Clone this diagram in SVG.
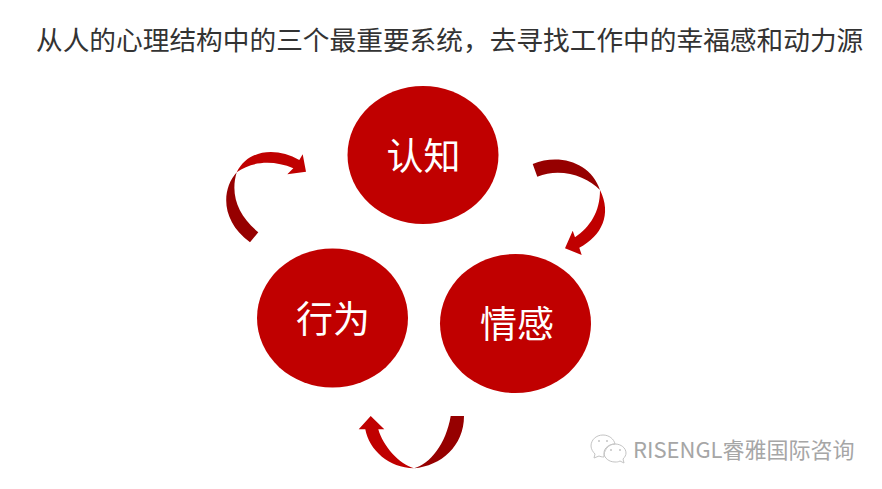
<svg xmlns="http://www.w3.org/2000/svg" width="882" height="489" viewBox="0 0 882 489">
<style>
.t{font-family:"Noto Sans CJK SC","Liberation Sans",sans-serif}
.n{fill:#c00000}
.l{fill:#fff;font-size:37px;text-anchor:middle}
.a{fill:#c00000}
.d{fill:#960000}
.i{fill:none;stroke:#c4c4c4;stroke-width:1}
.o{fill:#c4c4c4}
</style>
<rect width="882" height="489" fill="#fff"/>
<text id="title" class="t" x="36" y="50" font-size="26.7" fill="#333">从人的心理结构中的三个最重要系统，去寻找工作中的幸福感和动力源</text>
<g id="connectors">
<g id="arrow-left">
<path class="d" d="M236.700 172.300C221 190 221 221 250 242.300L258.300 232.300C238 215 230 195 236.700 172.300Z"/>
<path class="a" d="M236.700 172.300C248 149 277 147 299.300 160L302.700 154.300L306 171.700L287.300 174.300L293.300 168.300C274 160 252 161 236.700 172.300Z"/>
</g>
<g id="arrow-right">
<path class="d" d="M532.700 164C560 153 591 163 600 190C587 176 560 167 537.300 176.700Z"/>
<path class="a" d="M600 190C612 214 602 236 579.300 247.700L581.700 255L565 248.300L572.700 230.700L575 237.300C590 227 600 212 600 190Z"/>
</g>
<g id="arrow-bottom">
<path class="d" d="M450.700 416H464C464 446 441 466 414 468.300C430 464 446 444 450.700 416Z"/>
<path class="a" d="M414 468.300C389 468 369 450 365.300 429.300H358.700L370.700 416L384.300 429.300H378.300C383 446 399 464 414 468.300Z"/>
</g>
</g>
<g id="node-cognition"><ellipse class="n" cx="423" cy="155" rx="75.500" ry="69"/><text class="t l" x="423.500" y="170">认知</text></g>
<g id="node-emotion"><ellipse class="n" cx="515.500" cy="323.500" rx="75.500" ry="69.500"/><text class="t l" x="517" y="338">情感</text></g>
<g id="node-behavior"><ellipse class="n" cx="332.500" cy="318" rx="75.500" ry="69.500"/><text class="t l" x="333" y="333">行为</text></g>
<g id="watermark">
<path class="i" d="M603 435C596 435 591 440 591 446C591 449 593 452 595 454L594 458L599 456C600 456.500 602 457 604 457C603.500 451 608 444 615 444C614 439 609 435 603 435Z"/>
<path class="i" d="M615 444C609 444 604 448 604 453C604 458 609 462 615 462C617 462 618 462 620 461L624 463L623 459C625 457 626 455 626 453C626 448 621 444 615 444Z"/>
<circle class="o" cx="599" cy="441" r="1"/><circle class="o" cx="607" cy="441" r="1"/><circle class="o" cx="611" cy="450" r="1"/><circle class="o" cx="620" cy="450" r="1"/>
<text class="t" x="633" y="458" font-size="22" fill="#a6a6a6">RISENGL睿雅国际咨询</text>
</g>
</svg>
